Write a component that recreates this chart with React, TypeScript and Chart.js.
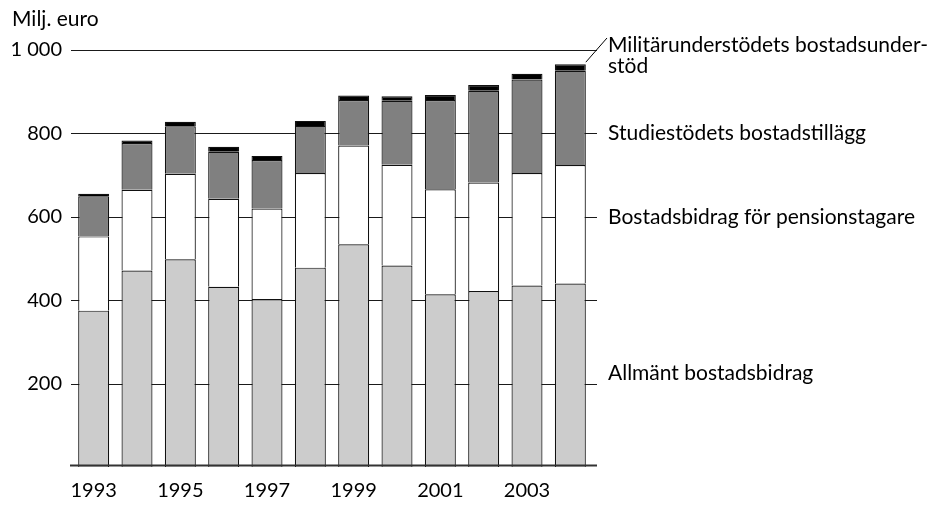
import React, { useEffect, useRef } from 'react';
import { Chart, registerables } from 'chart.js';

Chart.register(...registerables);

const years = ['1993', '1994', '1995', '1996', '1997', '1998', '1999', '2000', '2001', '2002', '2003', '2004'];
const allmant = [375, 471, 498, 432, 403, 478, 534, 483, 414, 422, 435, 440];
const pension = [178, 194, 205, 211, 217, 227, 237, 242, 252, 260, 270, 284];
const studie = [96, 112, 114, 113, 116, 113, 109, 153, 214, 220, 224, 226];
const militar = [6, 6, 11, 12, 10, 12, 11, 11, 12, 14, 14, 16];

const yTickValues = [200, 400, 600, 800, 1000];
const yTickLabels = ['200', '400', '600', '800', '1 000'];
const yUnit = 'Milj. euro';

const seriesNames = [
  'Allmänt bostadsbidrag',
  'Bostadsbidrag för pensionstagare',
  'Studiestödets bostadstillägg',
  'Militärunderstödets bostadsunderstöd',
];
// label anchor values on the y-scale
const labelValues = [226, 600, 800, 1012];
const militarLines = ['Militärunderstödets bostadsunder-', 'stöd'];

const FONT = 'Lato, "Open Sans", sans-serif';

const annotPlugin = {
  id: 'annot',
  beforeDatasetsDraw(chart: any) {
    const { ctx, chartArea, scales } = chart;
    const y = scales.y;
    ctx.save();
    ctx.strokeStyle = '#1a1a1a';
    ctx.lineWidth = 1;
    for (const v of yTickValues) {
      const py = Math.round(y.getPixelForValue(v)) + 0.5;
      ctx.beginPath();
      ctx.moveTo(chartArea.left - 1, py);
      ctx.lineTo(chartArea.right + 5, py);
      ctx.stroke();
    }
    ctx.restore();
  },
  afterDatasetsDraw(chart: any) {
    const { ctx, chartArea, scales } = chart;
    const y = scales.y;
    ctx.save();
    // x axis line
    ctx.strokeStyle = '#333';
    ctx.lineWidth = 2;
    ctx.beginPath();
    ctx.moveTo(chartArea.left - 2, chartArea.bottom - 1.5);
    ctx.lineTo(chartArea.right + 5, chartArea.bottom - 1.5);
    ctx.stroke();

    ctx.fillStyle = '#000';
    ctx.font = `21px ${FONT}`;
    ctx.textBaseline = 'middle';
    ctx.textAlign = 'left';
    ctx.fillText(yUnit, 12, 19);

    const lx = chartArea.right + 16;
    for (let i = 0; i < 3; i++) {
      ctx.fillText(seriesNames[i], lx, y.getPixelForValue(labelValues[i]));
    }
    const my = y.getPixelForValue(labelValues[3]);
    ctx.fillText(militarLines[0], lx, my);
    ctx.fillText(militarLines[1], lx, my + 21);

    // leader line from last bar top to the label
    const meta = chart.getDatasetMeta(3);
    const bar = meta.data[meta.data.length - 1];
    if (bar) {
      const bx = bar.x + bar.width / 2;
      const by = bar.y - 2;
      ctx.strokeStyle = '#000';
      ctx.lineWidth = 1;
      ctx.beginPath();
      ctx.moveTo(bx, by);
      ctx.lineTo(lx - 1, my - 7);
      ctx.stroke();
    }
    ctx.restore();
  },
};

export default function App() {
  const ref = useRef<HTMLCanvasElement | null>(null);
  useEffect(() => {
    if (!ref.current) return;
    Chart.defaults.font.family = FONT;
    Chart.defaults.font.size = 20;
    Chart.defaults.color = '#000';
    const mk = (label: string, data: number[], color: string) => ({
      label,
      data,
      backgroundColor: color,
      borderColor: '#111',
      borderWidth: 1.2,
      barPercentage: 0.715,
      categoryPercentage: 1,
    });
    const chart = new Chart(ref.current, {
      type: 'bar',
      data: {
        labels: years,
        datasets: [
          mk(seriesNames[0], allmant, '#cccccc'),
          mk(seriesNames[1], pension, '#ffffff'),
          mk(seriesNames[2], studie, '#808080'),
          mk(seriesNames[3], militar, '#000000'),
        ],
      },
      options: {
        animation: false,
        responsive: false,
        maintainAspectRatio: false,
        layout: { padding: { left: 0, top: 50, right: 340, bottom: 0 } },
        plugins: { legend: { display: false }, tooltip: { enabled: false } },
        scales: {
          x: {
            stacked: true,
            grid: { display: false, drawTicks: false },
            border: { display: false },
            ticks: {
              autoSkip: false,
              maxRotation: 0,
              padding: 12,
              font: { size: 20 },
              color: '#000',
              callback: (_v: any, i: number) => (i % 2 === 0 ? years[i] : ''),
            },
            afterFit: (s: any) => { s.height = 38; },
          },
          y: {
            stacked: true,
            min: 0,
            max: 1000,
            grid: { display: false, drawTicks: false },
            border: { display: false },
            afterBuildTicks: (s: any) => { s.ticks = yTickValues.map((v) => ({ value: v })); },
            ticks: {
              padding: 10,
              font: { size: 20 },
              color: '#000',
              callback: (v: any) => {
                const i = yTickValues.indexOf(Number(v));
                return i >= 0 ? yTickLabels[i] : '';
              },
            },
            afterFit: (s: any) => { s.width = 72; },
          },
        },
      },
      plugins: [annotPlugin],
    });
    return () => chart.destroy();
  }, []);
  return (
    <div style={{ position: 'fixed', left: 0, top: 0, width: 932, height: 505, background: '#fff' }}>
      <canvas ref={ref} width={932} height={505} style={{ width: 932, height: 505 }} />
    </div>
  );
}
